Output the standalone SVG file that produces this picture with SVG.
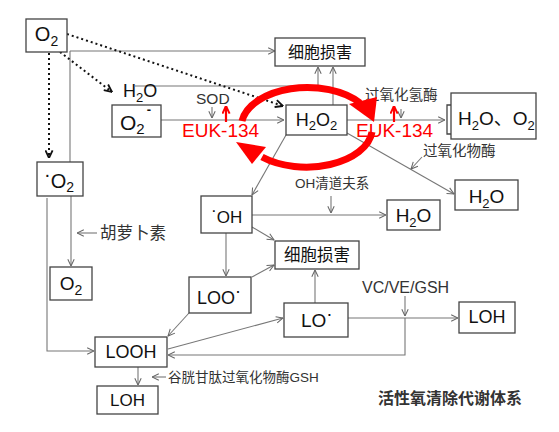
<svg xmlns="http://www.w3.org/2000/svg" width="559" height="432" viewBox="0 0 559 432">
<defs>
<marker id="ag" viewBox="0 0 10 10" refX="9.5" refY="5" markerWidth="8" markerHeight="8" markerUnits="userSpaceOnUse" orient="auto"><path d="M1,1 L9.5,5 L1,9" fill="none" stroke="#666" stroke-width="1.3"/></marker>
<marker id="ak" viewBox="0 0 10 10" refX="9.5" refY="5" markerWidth="9" markerHeight="9" markerUnits="userSpaceOnUse" orient="auto"><path d="M1,1 L9.5,5 L1,9" fill="none" stroke="#111" stroke-width="2"/></marker>
<marker id="ar" viewBox="0 0 10 10" refX="9.5" refY="5" markerWidth="9" markerHeight="9" markerUnits="userSpaceOnUse" orient="auto"><path d="M1,1 L9.5,5 L1,9" fill="none" stroke="#f00" stroke-width="2.2"/></marker>
</defs>
<style>
.box{fill:#fff;stroke:#444;stroke-width:1.3}
.ln{fill:none;stroke:#777;stroke-width:1.1;marker-end:url(#ag)}
.pl{fill:none;stroke:#777;stroke-width:1.1}
.dt{fill:none;stroke:#111;stroke-width:2;stroke-dasharray:2 3;marker-end:url(#ak)}
.rd{fill:none;stroke:#f00;stroke-width:2.2;marker-end:url(#ar)}
.arc{fill:none;stroke:#f00;stroke-width:7}
text{font-family:"Liberation Sans","Noto Sans CJK SC",sans-serif;fill:#111}
.lab{fill:#333}
.red{fill:#f00}
</style>
<rect width="559" height="432" fill="#fff"/>
<g id="connectors">
<path class="pl" d="M70,162 L70,51"/>
<path class="ln" d="M70,51 L275,51"/>
<path class="ln" d="M135,86 L318,86 L318,67"/>
<path class="ln" d="M333,105 L333,67"/>
<path class="ln" d="M161,120 L284,120"/>
<path class="ln" d="M347,120 L445,120"/>
<path fill="none" stroke="#444" stroke-width="1.3" d="M452,105 L447,105 L447,134 L452,134"/>
<path class="ln" d="M347,133 L454,194"/>
<path class="ln" d="M422,157 L411,169"/>
<path class="ln" d="M286,135 L252,195"/>
<path class="ln" d="M252,215 L386,215"/>
<path class="ln" d="M331,196 L331,213"/>
<path class="ln" d="M252,227 L274,240"/>
<path class="ln" d="M226,233 L226,276"/>
<path class="ln" d="M252,277 L274,265"/>
<path class="ln" d="M315,303 L315,270"/>
<path class="ln" d="M348,318 L458,318"/>
<path class="ln" d="M405,296 L405,316"/>
<path class="ln" d="M405,318 L405,355 L168,355"/>
<path class="ln" d="M168,349 L283,318"/>
<path class="ln" d="M189,313 L168,336"/>
<path class="ln" d="M47,198 L47,351 L94,351"/>
<path class="ln" d="M71,196 L71,266"/>
<path class="ln" d="M97,233 L77,233"/>
<path class="ln" d="M138,367 L138,385"/>
<path class="ln" d="M166,377 L152,377"/>
<path class="ln" d="M212,107 L212,118"/>
<path class="ln" d="M401,109 L401,118"/>
<path class="dt" d="M67,34 L283,106"/>
<path class="dt" d="M60,52 L112,92"/>
<path class="dt" d="M49,53 L49,158"/>
<path class="rd" d="M226,122 L226,106"/>
<path class="rd" d="M394,122 L394,106"/>
</g>
<g id="n-o2-top"><rect class="box" x="26" y="19" width="41" height="33"/><text x="46.5" y="41" font-size="20" text-anchor="middle">O<tspan font-size="14" dy="5">2</tspan></text></g>
<g id="n-damage-top"><rect class="box" x="275" y="38" width="90" height="28"/><text x="320" y="58" font-size="16" text-anchor="middle">细胞损害</text></g>
<g id="n-h2o-label"><text x="123" y="97" font-size="18">H<tspan font-size="13" dy="5">2</tspan><tspan dy="-5">O</tspan></text></g>
<g id="n-o2minus"><rect class="box" x="112" y="105" width="49" height="32"/><text x="120" y="130" font-size="21">O<tspan font-size="15" dy="4">2</tspan><tspan font-size="13" font-weight="bold" dx="2" dy="-20">-</tspan></text></g>
<g id="n-sod"><text class="lab" x="196" y="104" font-size="15.5">SOD</text></g>
<g id="n-euk-left"><text class="red" x="182" y="137" font-size="19">EUK-134</text></g>
<g id="n-h2o2"><rect class="box" x="286" y="105" width="61" height="30"/><text x="316.5" y="126" font-size="18" text-anchor="middle">H<tspan font-size="13" dy="4">2</tspan><tspan dy="-4">O</tspan><tspan font-size="13" dy="4">2</tspan></text></g>
<g id="n-euk-right"><text class="red" x="356" y="137" font-size="19">EUK-134</text></g>
<g id="n-catalase"><text class="lab" x="365" y="100" font-size="14.5">过氧化氢酶</text></g>
<g id="n-h2o-o2"><rect class="box" x="451" y="93" width="85" height="46"/><text x="458" y="125" font-size="19">H<tspan font-size="13" dy="5">2</tspan><tspan dy="-5">O、O</tspan><tspan font-size="13" dy="5">2</tspan></text></g>
<g id="n-peroxidase"><text class="lab" x="423" y="156" font-size="14.5">过氧化物酶</text></g>
<g id="n-h2o-right"><rect class="box" x="455" y="180" width="63" height="30"/><text x="486.5" y="203" font-size="19" text-anchor="middle">H<tspan font-size="13" dy="5">2</tspan><tspan dy="-5">O</tspan></text></g>
<g id="n-o2rad"><rect class="box" x="37" y="162" width="46" height="34"/><text x="44" y="188" font-size="20"><tspan dy="-7">·</tspan><tspan dy="7">O</tspan><tspan font-size="14" dy="4">2</tspan></text></g>
<g id="n-carotene"><text class="lab" x="100" y="239" font-size="16.5">胡萝卜素</text></g>
<g id="n-o2-low"><rect class="box" x="50" y="267" width="42" height="33"/><text x="71" y="290" font-size="19" text-anchor="middle">O<tspan font-size="14" dy="5">2</tspan></text></g>
<g id="n-oh-scav"><text class="lab" x="295" y="188" font-size="13.5">OH清道夫系</text></g>
<g id="n-oh"><rect class="box" x="201" y="196" width="51" height="37"/><text x="211" y="223" font-size="17"><tspan dy="-7">·</tspan><tspan dy="7">OH</tspan></text></g>
<g id="n-h2o-mid"><rect class="box" x="387" y="200" width="53" height="30"/><text x="413.5" y="222" font-size="19" text-anchor="middle">H<tspan font-size="13" dy="5">2</tspan><tspan dy="-5">O</tspan></text></g>
<g id="n-damage-mid"><rect class="box" x="275" y="241" width="84" height="28"/><text x="317" y="261" font-size="16.5" text-anchor="middle">细胞损害</text></g>
<g id="n-loo"><rect class="box" x="189" y="277" width="62" height="36"/><text x="197" y="304" font-size="18">LOO<tspan dy="-7">·</tspan></text></g>
<g id="n-lo"><rect class="box" x="284" y="303" width="64" height="34"/><text x="301" y="327" font-size="19">LO<tspan dy="-7">·</tspan></text></g>
<g id="n-vc"><text class="lab" x="362" y="293" font-size="16">VC/VE/GSH</text></g>
<g id="n-loh-right"><rect class="box" x="459" y="302" width="56" height="31"/><text x="487" y="323" font-size="18" text-anchor="middle">LOH</text></g>
<g id="n-looh"><rect class="box" x="95" y="337" width="72" height="30"/><text x="131" y="358" font-size="18" text-anchor="middle">LOOH</text></g>
<g id="n-gsh"><text class="lab" x="168" y="382" font-size="13.5">谷胱甘肽过氧化物酶GSH</text></g>
<g id="n-loh-low"><rect class="box" x="97" y="386" width="61" height="28"/><text x="127.5" y="406" font-size="17" text-anchor="middle">LOH</text></g>
<g id="n-title"><text class="lab" x="378" y="404" font-size="16" font-weight="bold">活性氧清除代谢体系</text></g>
<g id="red-cycle">
<path class="arc" d="M242,121 A66,39 0 0 1 360,103"/>
<polygon fill="#f00" points="349,104 377,97 374,122"/>
<path class="arc" d="M372,132 A66,39 0 0 1 262,157"/>
<polygon fill="#f00" points="236,142 266,147 252,164"/>
</g>
</svg>
